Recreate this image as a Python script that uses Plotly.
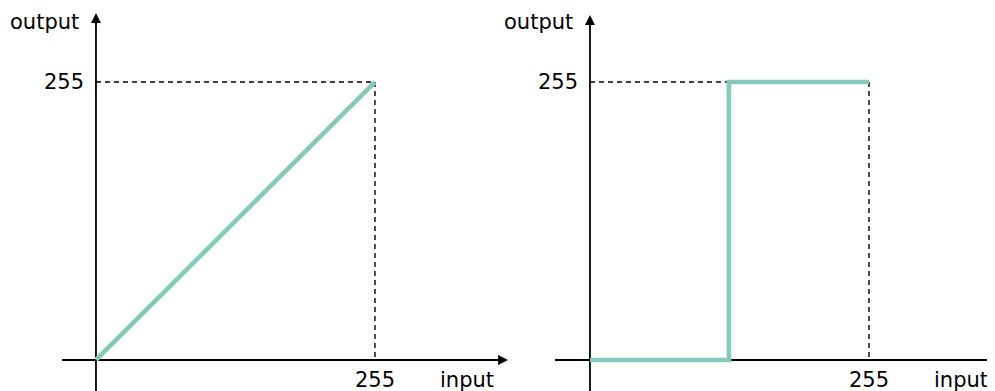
import plotly.graph_objects as go

# Data
max_val = 255
linear_x = [0, 255]
linear_y = [0, 255]
step_x = [0, 127, 127, 255]
step_y = [0, 0, 255, 255]
tick_label = "255"
x_title = "input"
y_title = "output"

LINE_COLOR = "#87c9ba"
FONT = "DejaVu Sans"

fig = go.Figure()

# ranges chosen so that origin/255 land at the reference pixel positions
x_ranges = [[-80.4, 374.3], [-77.2, 377.5]]
y_range = [-35.8, 322.9]

panels = [
    dict(xs=linear_x, ys=linear_y, y_top=318.3, x_end=376.6, x_start=-31),
    dict(xs=step_x, ys=step_y, y_top=316.5, x_end=372, x_start=-32),
]

annotations = []
for i, p in enumerate(panels):
    xa = "x" if i == 0 else "x2"
    ya = "y" if i == 0 else "y2"
    # axis lines (below the curve)
    fig.add_trace(go.Scatter(x=[p["x_start"], p["x_end"] - 3], y=[0, 0], mode="lines",
                             line=dict(color="black", width=1.8),
                             xaxis=xa, yaxis=ya, hoverinfo="skip", showlegend=False))
    fig.add_trace(go.Scatter(x=[0, 0], y=[y_range[0] - 5, p["y_top"] - 3], mode="lines",
                             line=dict(color="black", width=1.8),
                             xaxis=xa, yaxis=ya, hoverinfo="skip", showlegend=False))
    # guide dashed lines
    fig.add_trace(go.Scatter(x=[0, max_val, max_val], y=[max_val, max_val, 0], mode="lines",
                             line=dict(color="black", width=1.4, dash="5px,4px"),
                             xaxis=xa, yaxis=ya, hoverinfo="skip", showlegend=False))
    # main curve
    fig.add_trace(go.Scatter(x=p["xs"], y=p["ys"], mode="lines",
                             line=dict(color=LINE_COLOR, width=4.6),
                             xaxis=xa, yaxis=ya, hoverinfo="skip", showlegend=False))
    # arrowheads
    annotations.append(dict(x=p["x_end"], y=0, ax=p["x_end"] - 12, ay=0, xref=xa, yref=ya,
                            axref=xa, ayref=ya, showarrow=True, arrowhead=2, arrowsize=1.1,
                            arrowwidth=1.8, arrowcolor="black", text="", standoff=0, startstandoff=0))
    annotations.append(dict(x=0, y=p["y_top"], ax=0, ay=p["y_top"] - 12, xref=xa, yref=ya,
                            axref=xa, ayref=ya, showarrow=True, arrowhead=2, arrowsize=1.1,
                            arrowwidth=1.8, arrowcolor="black", text="", standoff=0, startstandoff=0))
    # labels
    annotations.append(dict(x=-14, y=310, xref=xa, yref=ya, text=y_title, showarrow=False,
                            xanchor="right", yanchor="middle", font=dict(size=21, family=FONT, color="black")))
    annotations.append(dict(x=-9, y=max_val, xref=xa, yref=ya, text=tick_label, showarrow=False,
                            xanchor="right", yanchor="middle", font=dict(size=21, family=FONT, color="black")))
    annotations.append(dict(x=max_val, y=-18.5, xref=xa, yref=ya, text=tick_label, showarrow=False,
                            xanchor="center", yanchor="middle", font=dict(size=21, family=FONT, color="black")))
    annotations.append(dict(x=339, y=-18.5, xref=xa, yref=ya, text=x_title, showarrow=False,
                            xanchor="center", yanchor="middle", font=dict(size=21, family=FONT, color="black")))

axis_common = dict(visible=False, showgrid=False, zeroline=False, fixedrange=True)
fig.update_layout(
    width=995, height=391,
    margin=dict(l=0, r=0, t=0, b=0),
    paper_bgcolor="white", plot_bgcolor="white",
    xaxis=dict(domain=[0, 0.5], range=x_ranges[0], **axis_common),
    yaxis=dict(domain=[0, 1], range=y_range, **axis_common),
    xaxis2=dict(domain=[0.5, 1], range=x_ranges[1], **axis_common),
    yaxis2=dict(domain=[0, 1], range=y_range, anchor="x2", **axis_common),
    annotations=annotations,
    showlegend=False,
)

fig.write_html("out.html")
